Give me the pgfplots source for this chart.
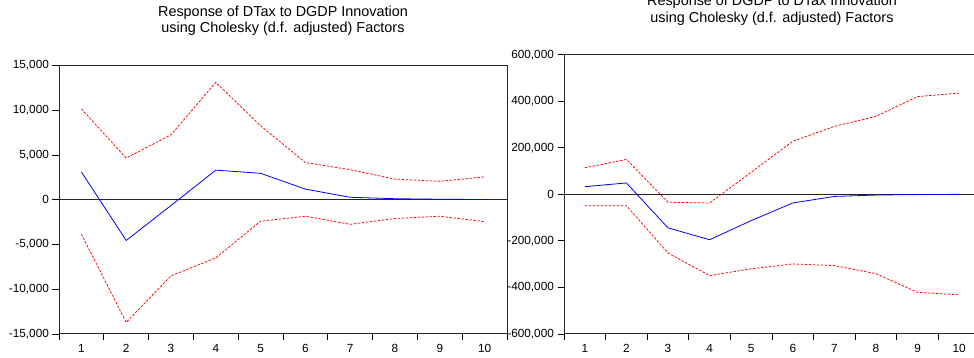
\documentclass[border=0pt]{standalone}
\usepackage{pgfplots}
\pgfplotsset{compat=1.18}
\usepackage{fontspec}
\setmainfont{Liberation Sans}
\definecolor{irfblue}{RGB}{0,0,255}
\definecolor{irfred}{RGB}{255,0,0}
\begin{document}
\begin{tikzpicture}
\useasboundingbox (0pt,0pt) rectangle (974pt,358pt);
\pgfplotsset{
  irf/.style={
    scale only axis,
    anchor=south west,
    xmin=0.5, xmax=10.5,
    xtick={1,...,10},
    xticklabels={1,2,3,4,5,6,7,8,9,10},
    minor xtick={0.5,1.5,...,10.5},
    tick align=outside,
    xtick pos=bottom, ytick pos=left,
    major tick length=6.5pt,
    minor tick length=6pt,
    major x tick style={draw=none},
    tick style={black, line width=0.8pt},
    axis line style={black!85, line width=1pt},
    /pgf/number format/assume math mode=true,
    ticklabel style={font=\fontsize{11.8}{14}\selectfont},
    yticklabel style={inner sep=0pt, xshift=-3.4pt},
    xticklabel style={inner sep=0pt, yshift=-3.5pt},
    scaled y ticks=false,
    title style={font=\fontsize{14.4}{16.7}\selectfont, align=center, anchor=south, inner sep=0pt, at={(0.5,1)}, yshift=23.4pt},
    clip=false,
  },
  zero/.style={black!85, line width=0.9pt},
  mid/.style={irfblue, line width=0.8pt},
  band/.style={irfred, line width=0.75pt, dash pattern=on 2.5pt off 1.5pt},
}
\begin{axis}[irf,
  at={(59pt,24pt)}, width=448pt, height=268.6pt,
  ymin=-15000, ymax=15000,
  ytick={-15000,-10000,-5000,0,5000,10000,15000},
  yticklabels={{-15,000},{-10,000},{-5,000},{0},{5,000},{10,000},{15,000}},
  title={Response of DTax to DGDP Innovation\\using Cholesky (d.f. adjusted) Factors},
]
\addplot[zero] coordinates {(0.5,0) (10.5,0)};
\addplot[band] coordinates {(1,10150) (2,4650) (3,7250) (4,13100) (5,8250) (6,4150) (7,3350) (8,2300) (9,2050) (10,2550)};
\addplot[band] coordinates {(1,-3850) (2,-13700) (3,-8500) (4,-6500) (5,-2400) (6,-1850) (7,-2750) (8,-2100) (9,-1850) (10,-2450)};
\addplot[mid] coordinates {(1,3100) (2,-4550) (3,-650) (4,3300) (5,2950) (6,1180) (7,270) (8,110) (9,50) (10,20)};
\end{axis}
\begin{axis}[irf,
  at={(564pt,24pt)}, width=416pt, height=279.3pt,
  ymin=-600000, ymax=600000,
  ytick={-600000,-400000,-200000,0,200000,400000,600000},
  yticklabels={{-600,000},{-400,000},{-200,000},{0},{200,000},{400,000},{600,000}},
  title={Response of DGDP to DTax Innovation\\using Cholesky (d.f. adjusted) Factors},
]
\addplot[zero] coordinates {(0.5,0) (10.5,0)};
\addplot[band] coordinates {(1,114000) (2,150000) (3,-34000) (4,-37000) (5,95000) (6,228000) (7,292000) (8,335000) (9,420000) (10,435000)};
\addplot[band] coordinates {(1,-48500) (2,-48500) (3,-252000) (4,-349000) (5,-320000) (6,-299000) (7,-306000) (8,-341000) (9,-421000) (10,-432000)};
\addplot[mid] coordinates {(1,33000) (2,49000) (3,-144000) (4,-195000) (5,-113000) (6,-37000) (7,-9000) (8,-3000) (9,-1000) (10,0)};
\end{axis}
\end{tikzpicture}
\end{document}
